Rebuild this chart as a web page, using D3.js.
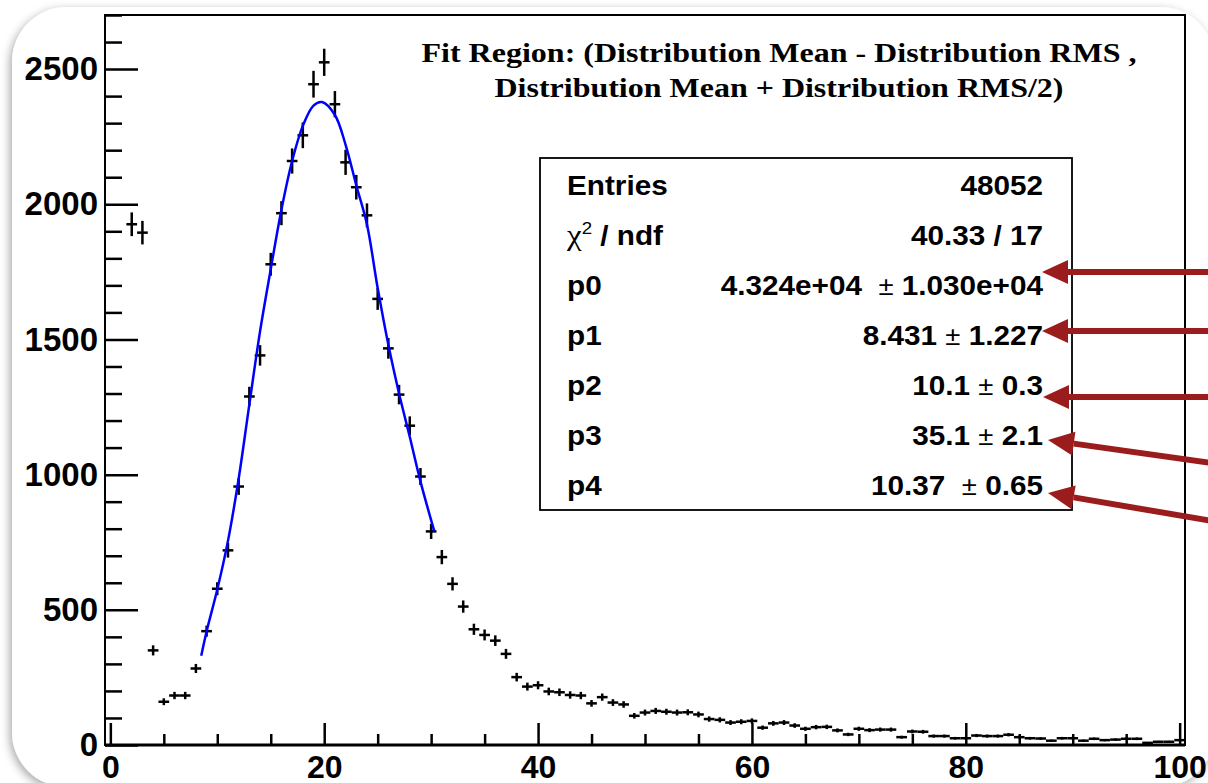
<!DOCTYPE html>
<html>
<head>
<meta charset="utf-8">
<script src="https://cdn.jsdelivr.net/npm/d3@7"></script>
<style>
  body { margin: 0; background: #fff; overflow: hidden; }
  svg text { font-family: "Liberation Sans", Arial, sans-serif; }
</style>
</head>
<body>
<div id="chart"></div>
<script>
// bin contents, first filled bin is centred at x = 2
const firstBin = 2;
const counts = [
    1926, 1895, 350, 160, 183, 183, 283, 421, 578, 720,
    956, 1289, 1441, 1778, 1967, 2160, 2255, 2444, 2525, 2370,
    2155, 2063, 1959, 1650, 1467, 1296, 1181, 993, 790, 695,
    596, 512, 428, 407, 386, 337, 251, 216, 221, 198,
    195, 185, 183, 154, 177, 157, 150, 108, 120, 126,
    123, 120, 121, 113, 96, 93, 83, 86, 89, 64,
    80, 83, 72, 60, 66, 67, 54, 39, 60, 55,
    57, 57, 29, 50, 49, 33, 33, 25, 25, 35,
    33, 33, 38, 29, 25, 24, 16, 25, 25, 16,
    23, 18, 20, 23, 23, 8, 12, 12, 18
];

// fitted curve
const fitX = [8.5, 9, 10, 11, 12, 13, 14, 15, 16, 17, 18, 19, 19.8, 21, 22, 23, 24, 25, 26, 27, 28, 29, 30.3];
const fitY = [330, 420, 575, 755, 985, 1260, 1530, 1760, 1980, 2160, 2290, 2365, 2378, 2330, 2220, 2070, 1925, 1690, 1480, 1300, 1140, 975, 790];

const xMajor = [0, 20, 40, 60, 80, 100];
const yMajor = [0, 500, 1000, 1500, 2000, 2500];

const titleLines = [
    "Fit Region: (Distribution Mean - Distribution RMS ,",
    "Distribution Mean + Distribution RMS/2)"
];

const statLabels = ["Entries", "chi2", "p0", "p1", "p2", "p3", "p4"];
const statValues = [
    "48052",
    "40.33 / 17",
    "4.324e+04  \u00b1 1.030e+04",
    "8.431 \u00b1 1.227",
    "10.1 \u00b1 0.3",
    "35.1 \u00b1 2.1",
    "10.37  \u00b1 0.65"
];

// annotation arrows pointing at the parameter values
const arrows = [
    { x1: 1212, y1: 272, x2: 1042, y2: 272 },
    { x1: 1212, y1: 331, x2: 1042, y2: 331 },
    { x1: 1212, y1: 397, x2: 1043, y2: 397 },
    { x1: 1212, y1: 463, x2: 1048, y2: 440 },
    { x1: 1212, y1: 521, x2: 1048, y2: 493 }
];

const W = 1208, H = 783;
const frame = { left: 105, top: 15, right: 1185, bottom: 745 };

const svg = d3.select("#chart").append("svg")
    .attr("width", W)
    .attr("height", H);

const defs = svg.append("defs");
defs.append("filter")
    .attr("id", "shadow")
    .attr("x", "-5%").attr("y", "-5%")
    .attr("width", "110%").attr("height", "110%")
    .append("feDropShadow")
    .attr("dx", -2).attr("dy", 3)
    .attr("stdDeviation", 5)
    .attr("flood-color", "#000")
    .attr("flood-opacity", 0.35);

// rounded slide panel
svg.append("rect")
    .attr("x", 12).attr("y", 7)
    .attr("width", 1203).attr("height", 780)
    .attr("rx", 55).attr("ry", 55)
    .attr("fill", "#fff")
    .attr("filter", "url(#shadow)");

const x = d3.scaleLinear().domain([-0.5, 100.5]).range([frame.left, frame.right]);
const y = d3.scaleLinear().domain([0, 2700]).range([frame.bottom, frame.top]);

// frame
svg.append("rect")
    .attr("x", frame.left).attr("y", frame.top)
    .attr("width", frame.right - frame.left)
    .attr("height", frame.bottom - frame.top)
    .attr("fill", "none")
    .attr("stroke", "#000")
    .attr("stroke-width", 2);

// y axis, ticks drawn inside the frame
const yMinor = d3.range(0, 2701, 100).filter(d => d % 500 != 0);
const yAxisMinor = svg.append("g")
    .attr("transform", "translate(" + frame.left + ",0)")
    .call(d3.axisLeft(y).tickValues(yMinor).tickSize(-17).tickFormat(""));
const yAxis = svg.append("g")
    .attr("transform", "translate(" + frame.left + ",0)")
    .call(d3.axisLeft(y).tickValues(yMajor).tickSize(-33).tickPadding(7).tickFormat(d3.format("d")));

// x axis
const xMinor = d3.range(0, 101, 5).filter(d => d % 20 != 0);
const xAxisMinor = svg.append("g")
    .attr("transform", "translate(0," + frame.bottom + ")")
    .call(d3.axisBottom(x).tickValues(xMinor).tickSize(-11).tickFormat(""));
const xAxis = svg.append("g")
    .attr("transform", "translate(0," + frame.bottom + ")")
    .call(d3.axisBottom(x).tickValues(xMajor).tickSize(-22).tickPadding(10).tickFormat(d3.format("d")));

[yAxisMinor, yAxis, xAxisMinor, xAxis].forEach(g => {
    g.select(".domain").remove();
    g.selectAll(".tick line").attr("stroke", "#000").attr("stroke-width", 2.5);
    g.selectAll(".tick text")
        .attr("fill", "#000")
        .style("font-size", "33px")
        .style("font-weight", "bold");
});
xAxis.selectAll(".tick text").style("font-size", "32px");

svg.append("line")
    .attr("x1", frame.left).attr("x2", frame.right)
    .attr("y1", frame.bottom).attr("y2", frame.bottom)
    .attr("stroke", "#000")
    .attr("stroke-width", 3);

// histogram points with poisson errors
const bins = counts.map((c, i) => ({ x: firstBin + i, n: c }));

const pts = svg.append("g").attr("stroke", "#000").attr("stroke-width", 2.5);
pts.selectAll(".hbar")
    .data(bins)
    .enter()
    .append("line")
    .attr("class", "hbar")
    .attr("x1", d => x(d.x - 0.5))
    .attr("x2", d => x(d.x + 0.5))
    .attr("y1", d => y(d.n))
    .attr("y2", d => y(d.n));
pts.selectAll(".vbar")
    .data(bins)
    .enter()
    .append("line")
    .attr("class", "vbar")
    .attr("x1", d => x(d.x))
    .attr("x2", d => x(d.x))
    .attr("y1", d => y(d.n - Math.sqrt(d.n)))
    .attr("y2", d => y(d.n + Math.sqrt(d.n)));

// fit function
const fitLine = d3.line()
    .x(d => x(d[0]))
    .y(d => y(d[1]))
    .curve(d3.curveCatmullRom.alpha(0.5));

svg.append("path")
    .datum(fitX.map((v, i) => [v, fitY[i]]))
    .attr("d", fitLine)
    .attr("fill", "none")
    .attr("stroke", "#0000ff")
    .attr("stroke-width", 2.5);

// title
const titleCx = 779;
const titleWidths = [715, 569];
svg.selectAll(".title")
    .data(titleLines)
    .enter()
    .append("text")
    .attr("class", "title")
    .attr("x", (d, i) => titleCx - titleWidths[i] / 2)
    .attr("y", (d, i) => 62 + 35 * i)
    .attr("textLength", (d, i) => titleWidths[i])
    .attr("lengthAdjust", "spacingAndGlyphs")
    .style("font-family", "'Liberation Serif', 'Times New Roman', serif")
    .style("font-weight", "bold")
    .style("font-size", "27px")
    .text(d => d);

// stats box
const box = { left: 540, top: 158, right: 1072, bottom: 510 };
svg.append("rect")
    .attr("x", box.left).attr("y", box.top)
    .attr("width", box.right - box.left)
    .attr("height", box.bottom - box.top)
    .attr("fill", "#fff")
    .attr("stroke", "#000")
    .attr("stroke-width", 1.8);

const rowY = i => 195 + 50 * i;

statLabels.forEach((lab, i) => {
    let t = svg.append("text")
        .attr("transform", "translate(567," + rowY(i) + ") scale(1.1,1)")
        .style("font-size", "27px")
        .style("font-weight", "bold");
    if (lab == "chi2") {
        t.append("tspan")
            .style("font-family", "'Liberation Serif', serif")
            .style("font-weight", "normal")
            .style("font-size", "30px")
            .text("\u03c7");
        t.append("tspan")
            .attr("dy", -11)
            .style("font-size", "17px")
            .style("font-weight", "normal")
            .text("2");
        t.append("tspan")
            .attr("dy", 11)
            .text(" / ndf");
    } else {
        t.text(lab);
    }
});

statValues.forEach((val, i) => {
    let t = svg.append("text")
        .attr("transform", "translate(1043," + rowY(i) + ") scale(1.1,1)")
        .attr("text-anchor", "end")
        .style("font-size", "27px")
        .style("font-weight", "bold")
        .style("white-space", "pre");
    let parts = val.split("\u00b1");
    t.append("tspan").text(parts[0]);
    if (parts.length > 1) {
        t.append("tspan")
            .style("font-weight", "normal")
            .style("font-size", "25px")
            .text("\u00b1");
        t.append("tspan").text(parts[1]);
    }
});

// arrows
const arrowColor = "#9b1c1c";
const ag = svg.append("g");
arrows.forEach(a => {
    let dx = a.x1 - a.x2, dy = a.y1 - a.y2;
    let len = Math.sqrt(dx * dx + dy * dy);
    let ux = dx / len, uy = dy / len;
    let hl = 26, hw = 12;
    let bx = a.x2 + ux * hl, by = a.y2 + uy * hl;
    ag.append("line")
        .attr("x1", a.x1).attr("y1", a.y1)
        .attr("x2", bx).attr("y2", by)
        .attr("stroke", arrowColor)
        .attr("stroke-width", 6);
    ag.append("polygon")
        .attr("points", [
            [a.x2, a.y2],
            [bx - uy * hw, by + ux * hw],
            [bx + uy * hw, by - ux * hw]
        ].map(p => p.join(",")).join(" "))
        .attr("fill", arrowColor);
});
</script>
</body>
</html>
